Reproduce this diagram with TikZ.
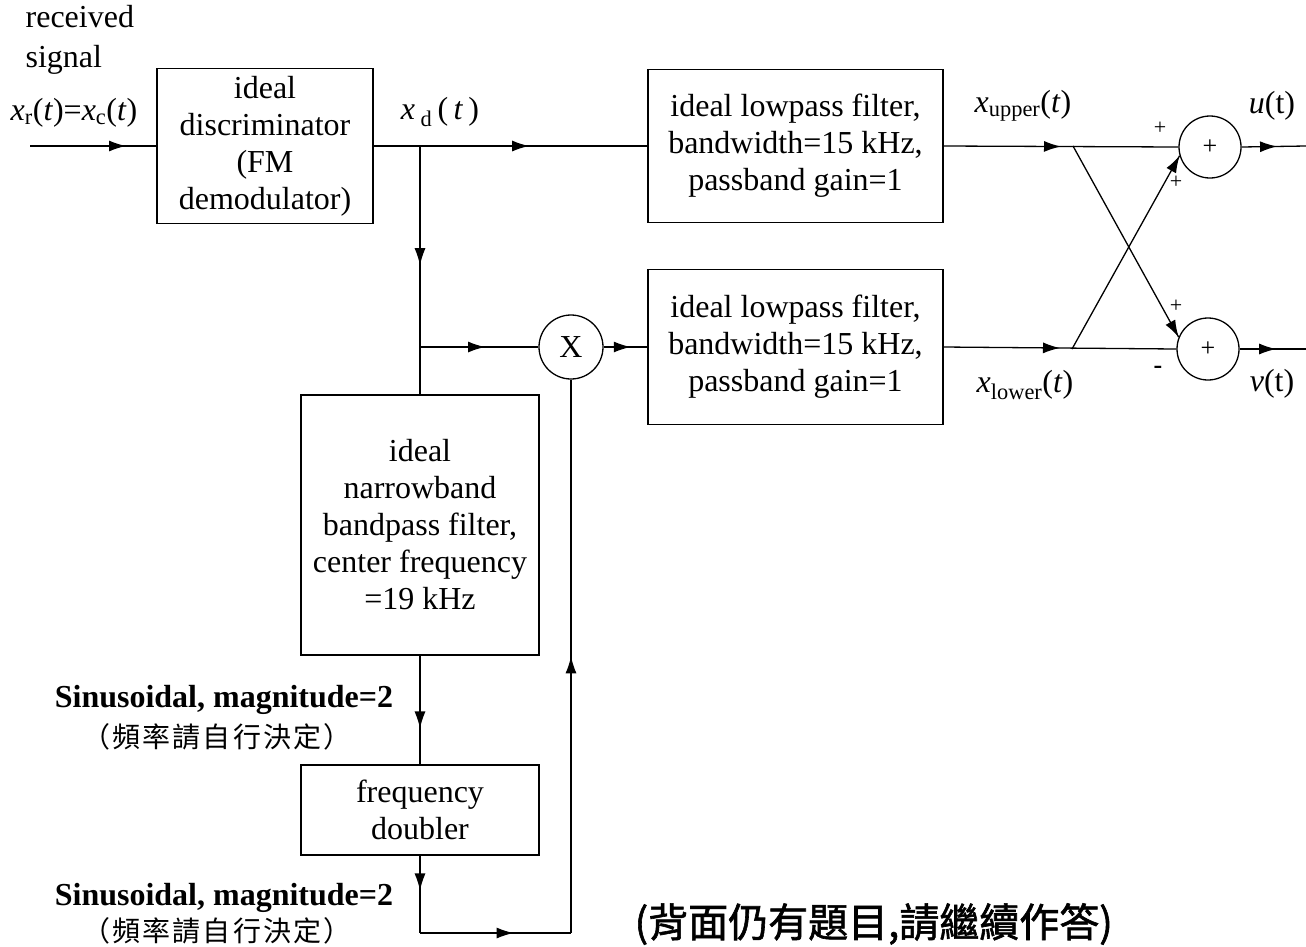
\documentclass[tikz,border=0pt]{standalone}
\usepackage{fontspec}
\setmainfont{Liberation Serif}
\newfontfamily\cjk[LetterSpace=8]{Noto Sans CJK TC}
\newfontfamily\cjkb[FakeBold=1.5]{Noto Sans CJK TC}
\usetikzlibrary{arrows.meta,decorations.markings}
\begin{document}
\begin{tikzpicture}[x=1pt,y=-1pt, line width=1.3pt,
  every node/.style={font=\fontsize{32}{37}\selectfont, inner sep=0pt},
  blk/.style={draw, align=center},
  sumc/.style={draw, circle, minimum size=62pt},
  lbl/.style={font=\fontsize{32}{37}\selectfont},
  sgn/.style={font=\fontsize{22}{22}\selectfont},
  arrowat/.style={postaction={decorate},decoration={markings,mark=at position #1 with {\arrow{Latex[length=17pt,width=11pt]}}}}
  ]
\useasboundingbox (0,0) rectangle (1306,946);

% blocks
\node[blk, minimum width=216pt, minimum height=155pt] (disc) at (265,146) {ideal\\discriminator\\(FM\\demodulator)};
\node[blk, minimum width=295pt, minimum height=153pt] (lpfu) at (795.5,146) {ideal lowpass filter,\\bandwidth=15 kHz,\\passband gain=1};
\node[blk, minimum width=295pt, minimum height=155pt] (lpfl) at (795.5,347) {ideal lowpass filter,\\bandwidth=15 kHz,\\passband gain=1};
\node[blk, minimum width=238pt, minimum height=260pt] (bp) at (420,525) {ideal\\narrowband\\bandpass filter,\\center frequency\\=19 kHz};
\node[blk, minimum width=238pt, minimum height=90pt] (fd) at (420,810) {frequency\\doubler};
\node[sumc, minimum size=64pt] (mult) at (571,347) {X};
\node[sumc, font=\fontsize{26}{26}\selectfont] (s1) at (1210,147) {+};
\node[sumc, font=\fontsize{26}{26}\selectfont] (s2) at (1208,349) {+};

% coordinates
\coordinate (in) at (30,146);
\coordinate (j1) at (420,146);
\coordinate (j2) at (420,347);
\coordinate (c1) at (420,933);
\coordinate (c2) at (571,933);
\coordinate (ju) at (1073,146);
\coordinate (jl) at (1072,349);
\coordinate (outu) at (1306,146);
\coordinate (outl) at (1306,349);

% connectors
\draw[arrowat=0.76] (in) -- (disc.west);
\draw (disc.east) -- (j1);
\draw[arrowat=0.48] (j1) -- (lpfu.west);
\draw[arrowat=0.48] (j1) -- (bp.north);
\draw[arrowat=0.55] (j2) -- (mult.west);
\draw[arrowat=0.62] (mult.east) -- (lpfl.west);
\draw[arrowat=0.5] (lpfu.east) -- (s1.west);
\draw[arrowat=0.5] (lpfl.east) -- (s2.west);
\draw[arrowat=1] (ju) -- (s2.158);
\draw[arrowat=1] (jl) -- (s1.196);
\draw[arrowat=0.55] (s1.east) -- (outu);
\draw[arrowat=0.55] (s2.east) -- (outl);
\draw[arrowat=0.67] (bp.south) -- (fd.north);
\draw[arrowat=0.45] (fd.south) -- (c1);
\draw[arrowat=0.62] (c1) -- (c2);
\draw[arrowat=0.5] (c2) -- (mult.south);

% labels
\node[lbl, align=left, anchor=west, font=\fontsize{32}{40}\selectfont] (rs) at (25,40) {received\\signal};
\node[lbl] (xr) at (74,113) {\textit{x}\textsubscript{r}(\textit{t})=\textit{x}\textsubscript{c}(\textit{t})};
\node[lbl] (xd) at (440,112) {\textit{x}\,\textsubscript{d}\,(\,\textit{t}\,)};
\node[lbl] (xu) at (1023,106) {\textit{x}\textsubscript{upper}(\textit{t})};
\node[lbl] (xl) at (1025,385) {\textit{x}\textsubscript{lower}(\textit{t})};
\node[lbl] (ut) at (1272,106) {\textit{u}(t)};
\node[lbl] (vt) at (1272,384) {\textit{v}(t)};
\node[sgn] (p1) at (1160,128) {+};
\node[sgn] (p2) at (1176,182) {+};
\node[sgn] (p3) at (1176,306) {+};
\node[sgn, font=\fontsize{26}{26}\selectfont\bfseries] (m1) at (1158,370) {-};
\node[lbl, font=\fontsize{32}{37}\selectfont\bfseries] (sin1) at (224,700) {Sinusoidal, magnitude=2};
\node[lbl, font=\fontsize{28}{30}\selectfont\cjk] (ch1) at (217,737) {（頻率請自行決定）};
\node[lbl, font=\fontsize{32}{37}\selectfont\bfseries] (sin2) at (224,898) {Sinusoidal, magnitude=2};
\node[lbl, font=\fontsize{28}{30}\selectfont\cjk] (ch2) at (217,931) {（頻率請自行決定）};
\node[lbl, font=\fontsize{40}{40}\selectfont\cjkb, anchor=west] (note) at (634,924) {(背面仍有題目,請繼續作答)};
\end{tikzpicture}
\end{document}
